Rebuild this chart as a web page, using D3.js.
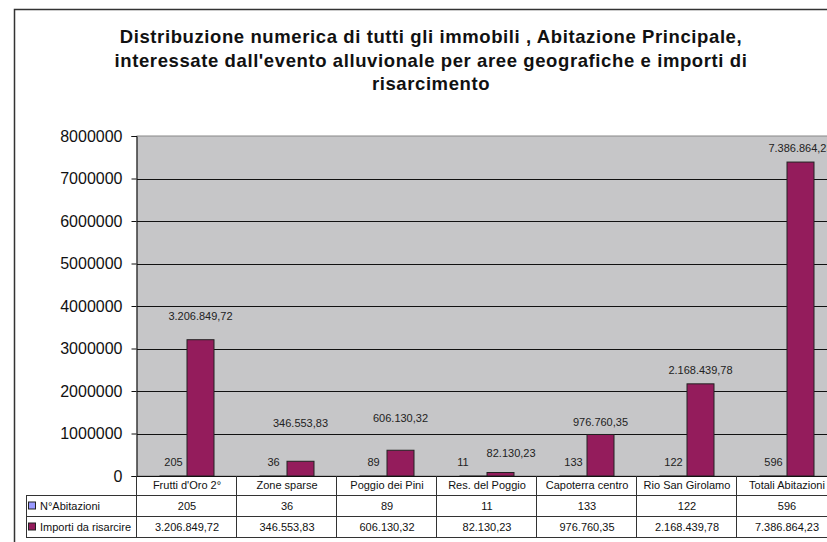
<!DOCTYPE html>
<html>
<head>
<meta charset="utf-8">
<script src="https://cdn.jsdelivr.net/npm/d3@7"></script>
<style>
  body { margin: 0; background: #fff; }
  svg { display: block; font-family: "Liberation Sans", Arial, sans-serif; }
</style>
</head>
<body>
<div class="chart"></div>
<script>
const w = 827;
const h = 542;

// data
const titleLines = [
  'Distribuzione numerica di tutti gli immobili , Abitazione Principale,',
  "interessate dall'evento alluvionale per aree geografiche e importi di",
  'risarcimento'
];
const categories = ['Frutti d\'Oro 2°', 'Zone sparse', 'Poggio dei Pini', 'Res. del Poggio',
  'Capoterra centro', 'Rio San Girolamo', 'Totali Abitazioni'];
const seriesNames = ['N°Abitazioni', 'Importi da risarcire'];
const abitazioni = [205, 36, 89, 11, 133, 122, 596];
const importi = [3206849.72, 346553.83, 606130.32, 82130.23, 976760.35, 2168439.78, 7386864.23];
const yTicks = [0, 1000000, 2000000, 3000000, 4000000, 5000000, 6000000, 7000000, 8000000];

// the original labels of the second series were dragged by hand: px above the bar top
const importiLabelLift = [24, 38, 32, 20, 12, 14, 14];

const colors = ['#9999ff', '#941c5c'];
const series = [abitazioni, importi];

const it = d3.formatLocale({ decimal: ',', thousands: '.', grouping: [3], currency: ['', ''] });
const fmtMoney = it.format(',.2f');
const fmtInt = d3.format('d');
const fmt = [fmtInt, fmtMoney];

const plotLeft = 137;
const plotTop = 136;
const plotBottom = 476;

const svg = d3.select('.chart').append('svg')
  .attr('width', w)
  .attr('height', h);

// outer frame
svg.append('rect')
  .attr('x', 14.5).attr('y', 9.5)
  .attr('width', 900).attr('height', 600)
  .attr('fill', '#fff')
  .attr('stroke', '#333')
  .attr('stroke-width', 1.5);

// title
svg.append('g').selectAll('text')
  .data(titleLines)
  .enter().append('text')
  .attr('x', 431)
  .attr('y', (d, i) => 43 + i * 23.5)
  .attr('text-anchor', 'middle')
  .attr('font-size', 18.5)
  .attr('letter-spacing', 0.6)
  .attr('font-weight', 'bold')
  .attr('fill', '#111')
  .text(d => d);

const x = d3.scaleBand().domain(categories).range([plotLeft, plotLeft + 100 * categories.length]);
const x1 = d3.scaleBand().domain([0, 1]).range([23, 77]);
const y = d3.scaleLinear().domain([0, 8000000]).range([plotBottom, plotTop]);

// plot area
svg.append('rect')
  .attr('x', plotLeft).attr('y', plotTop)
  .attr('width', 760).attr('height', plotBottom - plotTop)
  .attr('fill', '#c6c6c8')
  .attr('stroke', '#888')
  .attr('stroke-width', 1);

// gridlines
svg.append('g').selectAll('line')
  .data(yTicks.slice(1, -1))
  .enter().append('line')
  .attr('x1', plotLeft).attr('x2', w)
  .attr('y1', d => Math.round(y(d)) + 0.5)
  .attr('y2', d => Math.round(y(d)) + 0.5)
  .attr('stroke', '#111')
  .attr('stroke-width', 1);

// y axis
const yAxis = d3.axisLeft(y).tickValues(yTicks).tickSize(5).tickPadding(9).tickFormat(d3.format('d'));
const gy = svg.append('g')
  .attr('transform', `translate(${plotLeft - 0.5},0)`)
  .call(yAxis);
gy.select('.domain').attr('stroke', '#111');
gy.selectAll('.tick line').attr('stroke', '#111');
gy.selectAll('.tick text')
  .attr('font-size', 16)
  .attr('fill', '#111')
  .attr('font-family', '"Liberation Sans", Arial, sans-serif');

// bars
const groups = svg.append('g').selectAll('g')
  .data(categories)
  .enter().append('g')
  .attr('transform', d => `translate(${x(d)},0)`);

groups.selectAll('rect')
  .data((d, i) => series.map((s, k) => ({ k: k, v: s[i] })))
  .enter().append('rect')
  .attr('x', d => x1(d.k))
  .attr('y', d => y(d.v))
  .attr('width', x1.bandwidth())
  .attr('height', d => plotBottom - y(d.v))
  .attr('fill', d => colors[d.k])
  .attr('stroke', '#222')
  .attr('stroke-width', 1);

// value labels
groups.each(function (cat, i) {
  const g = d3.select(this);
  const labels = series.map((s, k) => {
    const lift = k === 1 ? importiLabelLift[i] : 14;
    return g.append('text')
      .attr('x', x1(k) + x1.bandwidth() / 2)
      .attr('y', y(s[i]) - lift + 4)
      .attr('text-anchor', 'middle')
      .attr('font-size', 11)
      .attr('fill', '#222')
      .text(fmt[k](s[i]));
  });
  // push the two labels apart when they collide
  const a = labels[0].node().getBBox();
  const b = labels[1].node().getBBox();
  const vOverlap = a.y < b.y + b.height && b.y < a.y + a.height;
  const overlap = a.x + a.width + 18 - b.x;
  if (vOverlap && overlap > 0) {
    labels[0].attr('x', +labels[0].attr('x') - overlap / 2);
    labels[1].attr('x', +labels[1].attr('x') + overlap / 2);
  }
});

// x axis line
svg.append('line')
  .attr('x1', plotLeft - 5).attr('x2', w)
  .attr('y1', plotBottom + 0.5).attr('y2', plotBottom + 0.5)
  .attr('stroke', '#111');

// data table
const rowY = [plotBottom, 495, 516, 537];
const tbl = svg.append('g').attr('stroke', '#333').attr('stroke-width', 1);
[1, 2, 3].forEach(r => {
  tbl.append('line')
    .attr('x1', 26).attr('x2', w)
    .attr('y1', rowY[r] + 0.5).attr('y2', rowY[r] + 0.5);
});
tbl.append('line')
  .attr('x1', 26.5).attr('x2', 26.5)
  .attr('y1', rowY[1]).attr('y2', rowY[3]);
tbl.append('line')
  .attr('x1', plotLeft - 0.5).attr('x2', plotLeft - 0.5)
  .attr('y1', plotBottom).attr('y2', rowY[3]);
tbl.selectAll('.vdiv')
  .data(categories)
  .enter().append('line')
  .attr('x1', d => x(d) + x.bandwidth() - 0.5)
  .attr('x2', d => x(d) + x.bandwidth() - 0.5)
  .attr('y1', plotBottom).attr('y2', rowY[3]);

// category labels
svg.append('g').selectAll('text')
  .data(categories)
  .enter().append('text')
  .attr('x', d => x(d) + x.bandwidth() / 2)
  .attr('y', 489)
  .attr('text-anchor', 'middle')
  .attr('font-size', 11)
  .attr('fill', '#111')
  .text(d => d);

// rows: legend key + values
series.forEach((s, k) => {
  const yc = (rowY[k + 1] + rowY[k + 2]) / 2;
  svg.append('rect')
    .attr('x', 28.5).attr('y', yc - 3.5)
    .attr('width', 7).attr('height', 7)
    .attr('fill', colors[k])
    .attr('stroke', '#222')
    .attr('stroke-width', 1);
  svg.append('text')
    .attr('x', 40).attr('y', yc + 4)
    .attr('font-size', 11)
    .attr('fill', '#111')
    .text(seriesNames[k]);
  svg.append('g').selectAll('text')
    .data(categories)
    .enter().append('text')
    .attr('x', d => x(d) + x.bandwidth() / 2)
    .attr('y', yc + 4)
    .attr('text-anchor', 'middle')
    .attr('font-size', 11)
    .attr('fill', '#111')
    .text((d, i) => fmt[k](s[i]));
});
</script>
</body>
</html>
